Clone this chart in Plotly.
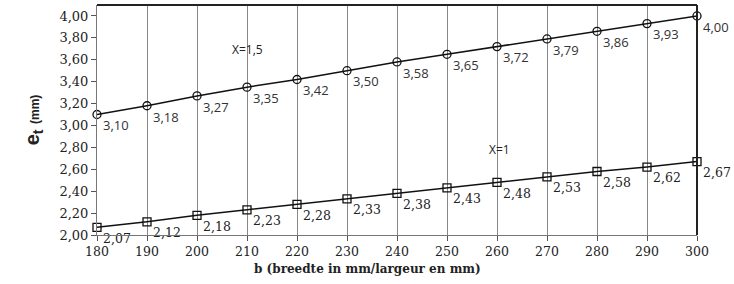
import plotly.graph_objects as go

b = [180, 190, 200, 210, 220, 230, 240, 250, 260, 270, 280, 290, 300]
x15 = [3.10, 3.18, 3.27, 3.35, 3.42, 3.50, 3.58, 3.65, 3.72, 3.79, 3.86, 3.93, 4.00]
x1 = [2.07, 2.12, 2.18, 2.23, 2.28, 2.33, 2.38, 2.43, 2.48, 2.53, 2.58, 2.62, 2.67]
yticks = [2.0, 2.2, 2.4, 2.6, 2.8, 3.0, 3.2, 3.4, 3.6, 3.8, 4.0]

SERIF = "DejaVu Serif"
SANS = "Open Sans"

fig = go.Figure()
fig.add_trace(go.Scatter(
    x=b, y=x15, mode="lines+markers+text",
    line=dict(color="#111", width=1.5),
    marker=dict(symbol="circle-open", size=8, color="#111", line=dict(width=1.3)),
    text=x15, texttemplate="%{text:.2f}", textposition="bottom right",
    textfont=dict(family=SANS, size=13, color="#333"),
    showlegend=False, cliponaxis=False))
fig.add_trace(go.Scatter(
    x=b, y=x1, mode="lines+markers+text",
    line=dict(color="#111", width=1.5),
    marker=dict(symbol="square-open", size=8, color="#111", line=dict(width=1.3)),
    text=x1, texttemplate="%{text:.2f}", textposition="bottom right",
    textfont=dict(family=SERIF, size=12.5, color="#222"),
    showlegend=False, cliponaxis=False))

fig.add_annotation(x=210, y=3.69, text="X=1,5", showarrow=False,
                   font=dict(family=SANS, size=12, color="#222"))
fig.add_annotation(x=260.5, y=2.78, text="X=1", showarrow=False,
                   font=dict(family=SANS, size=12, color="#222"))
# x-axis title (offset left of plot centre, as in the reference)
fig.add_annotation(xref="paper", yref="paper", x=0.45, y=0, yshift=-34,
                   xanchor="center", yanchor="middle", showarrow=False,
                   text="<b>b (breedte in mm/largeur en mm)</b>",
                   font=dict(family=SERIF, size=12, color="#222"))

fig.update_layout(
    width=734, height=284, separators=",.",
    margin=dict(l=97, r=37, t=5, b=49),
    plot_bgcolor="white", paper_bgcolor="white",
    xaxis=dict(range=[180, 300], tickvals=b, ticks="outside", ticklen=5,
               tickcolor="#555", showgrid=True, gridcolor="#888", gridwidth=1,
               showline=True, linecolor="#777", mirror=False, zeroline=False,
               tickfont=dict(family=SERIF, size=12.5, color="#222")),
    yaxis=dict(range=[2.0, 4.1], tickvals=yticks, tickformat=".2f", ticks="outside",
               ticklen=5, tickcolor="#555", showgrid=False, showline=True,
               linecolor="#777", zeroline=False,
               tickfont=dict(family=SERIF, size=13, color="#222"),
               title=dict(text="<b>e<sub>t</sub> <span style='font-size:12px'>(mm)</span></b>",
                          font=dict(family="Liberation Sans", size=20, color="#222"),
                          standoff=14)),
)
# top and right borders
fig.add_shape(type="line", xref="paper", yref="paper", x0=0, x1=1, y0=1, y1=1,
              line=dict(color="#222", width=2))
fig.add_shape(type="line", xref="paper", yref="paper", x0=1, x1=1, y0=0, y1=1,
              line=dict(color="#222", width=2))

fig.write_html("out.html", config={"displayModeBar": False},
               post_script="document.body.style.margin='0';")
